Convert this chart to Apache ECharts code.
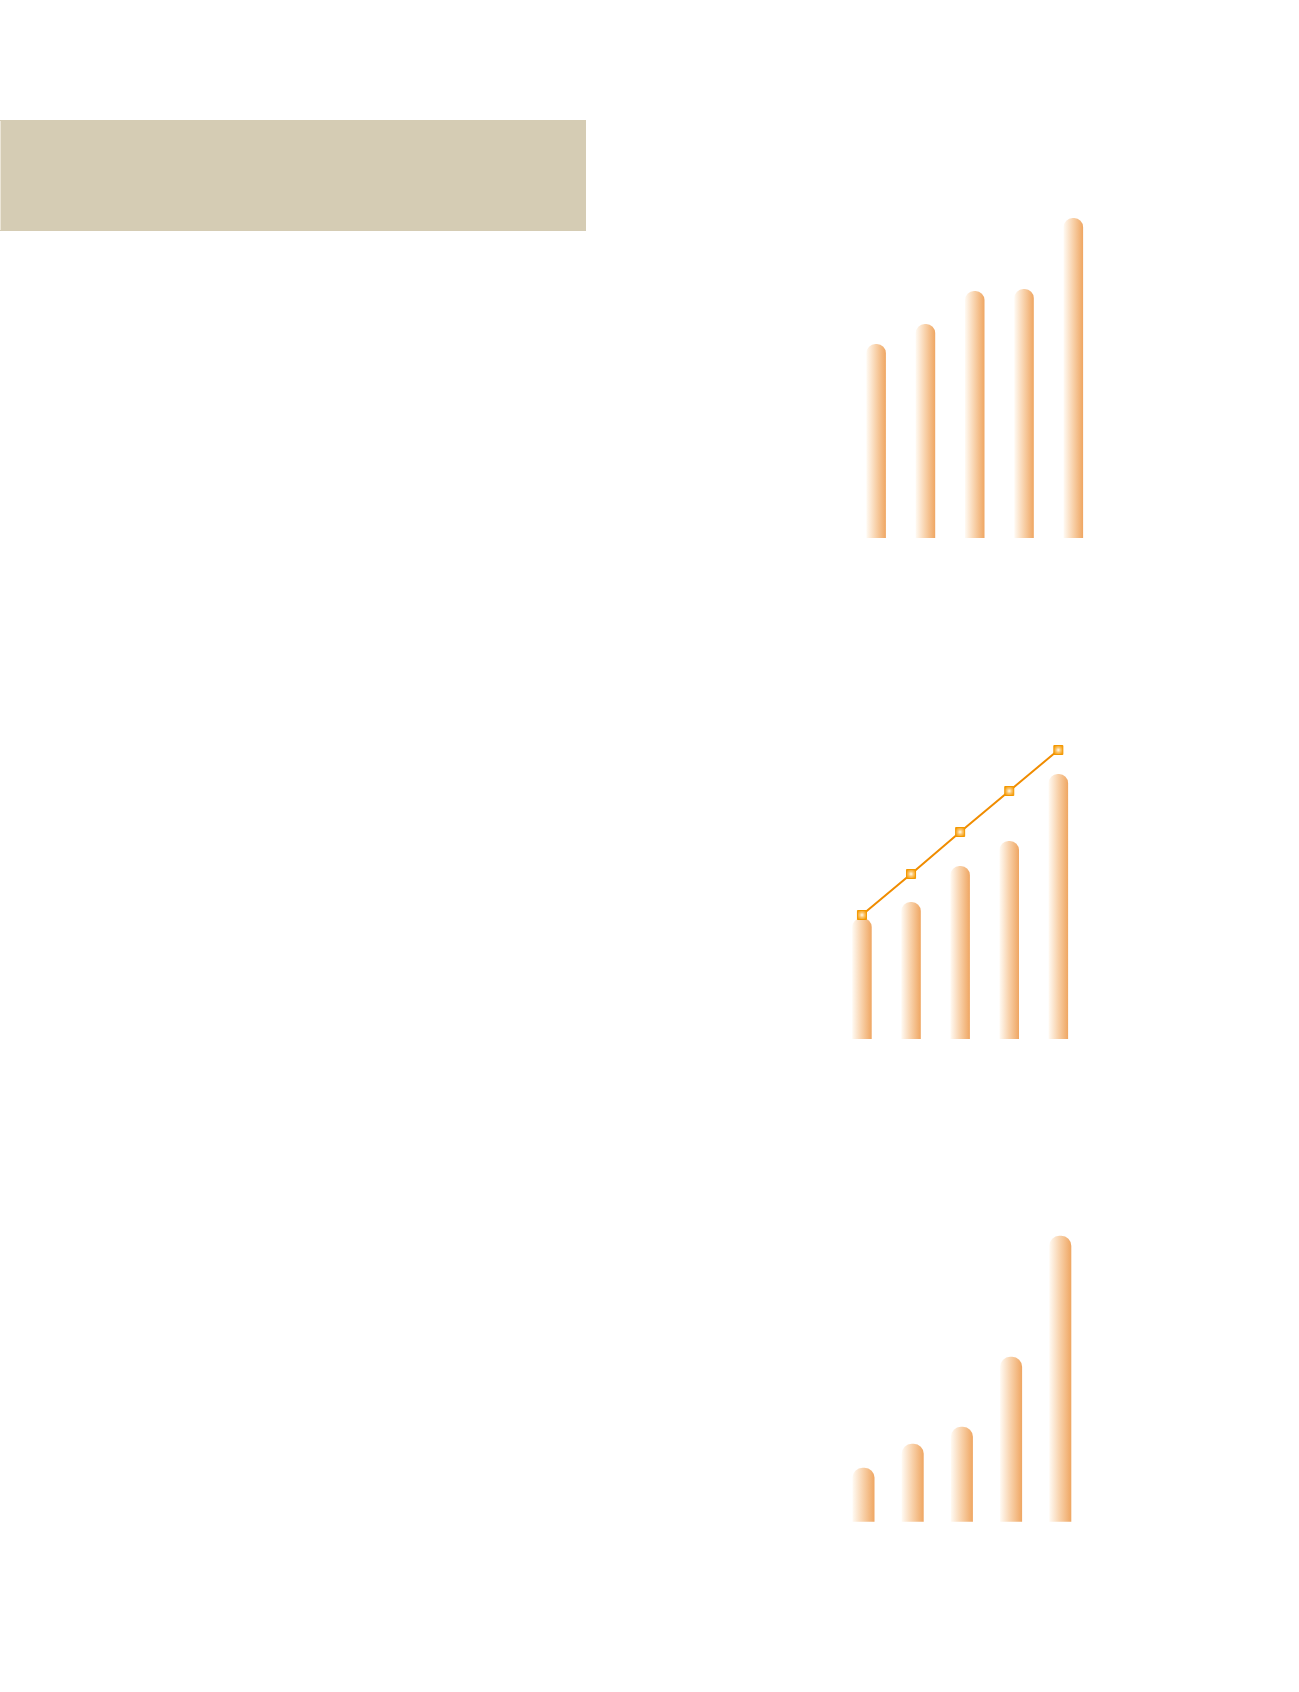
<!DOCTYPE html>
<html>
<head>
<meta charset="utf-8">
<script src="https://cdn.jsdelivr.net/npm/echarts@6/dist/echarts.min.js"></script>
<style>
html,body{margin:0;padding:0;background:#ffffff;}
#chart{width:1299px;height:1692px;}
</style>
</head>
<body>
<div id="chart"></div>
<script>
// Data (arbitrary units)
const categories = ['1', '2', '3', '4', '5'];
const chart1Bars = [194, 214, 247, 249, 320];
const chart2Bars = [121, 137, 173, 198, 265];
const chart2Line = [124, 165, 207, 248, 289];
const chart3Bars = [54, 78, 95, 165, 286];

const barGradient = new echarts.graphic.LinearGradient(0, 0, 1, 0, [
  { offset: 0, color: '#fffaf3' },
  { offset: 0.5, color: '#f8d0a8' },
  { offset: 1, color: '#efa662' }
]);
const markerGradient = new echarts.graphic.RadialGradient(0.5, 0.5, 0.55, [
  { offset: 0, color: '#fffbea' },
  { offset: 0.45, color: '#fcc46a' },
  { offset: 1, color: '#f39800' }
]);

const chart = echarts.init(document.getElementById('chart'), null, { renderer: 'canvas' });

function xAx(i) {
  return { type: 'category', gridIndex: i, data: categories, show: false, boundaryGap: true };
}
function yAx(i, max) {
  return { type: 'value', gridIndex: i, min: 0, max: max, show: false };
}

chart.setOption({
  backgroundColor: '#ffffff',
  animation: false,
  graphic: [
    { type: 'rect', shape: { x: 0, y: 120, width: 586, height: 111 },
      style: { fill: '#d5ccb4' } },
    { type: 'rect', shape: { x: 0, y: 121, width: 1, height: 109 },
      style: { fill: '#ece6d8' } }
  ],
  grid: [
    { left: 851.5, top: 198, width: 246.5, height: 340 },
    { left: 837.4, top: 739, width: 245.5, height: 300 },
    { left: 838.9, top: 1221.7, width: 246, height: 300 }
  ],
  xAxis: [xAx(0), xAx(1), xAx(2)],
  yAxis: [yAx(0, 340), yAx(1, 300), yAx(2, 300)],
  series: [
    { type: 'bar', xAxisIndex: 0, yAxisIndex: 0, data: chart1Bars, barWidth: 19.5,
      itemStyle: { color: barGradient, borderRadius: [9, 9, 0, 0] } },
    { type: 'bar', xAxisIndex: 1, yAxisIndex: 1, data: chart2Bars, barWidth: 19.5,
      itemStyle: { color: barGradient, borderRadius: [9, 9, 0, 0] } },
    { type: 'line', xAxisIndex: 1, yAxisIndex: 1, data: chart2Line,
      symbol: 'rect', symbolSize: 9, showAllSymbol: true,
      lineStyle: { color: '#f08c00', width: 2 },
      itemStyle: { color: markerGradient, borderColor: '#f39800', borderWidth: 1 },
      z: 5 },
    { type: 'bar', xAxisIndex: 2, yAxisIndex: 2, data: chart3Bars, barWidth: 22,
      itemStyle: { color: barGradient, borderRadius: [10, 10, 0, 0] } }
  ]
});
</script>
</body>
</html>
